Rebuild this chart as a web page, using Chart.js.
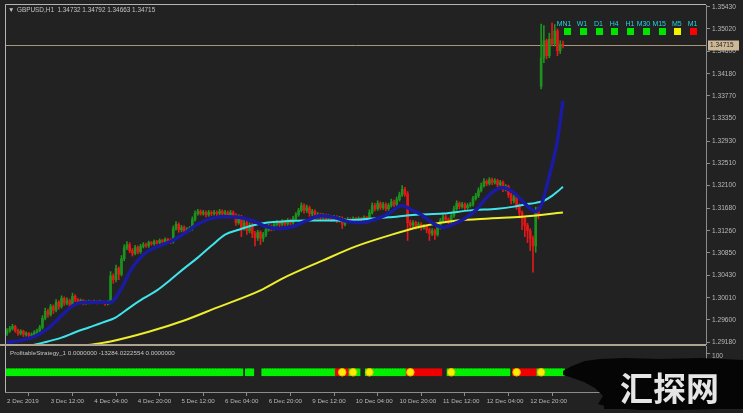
<!DOCTYPE html>
<html>
<head>
<meta charset="utf-8">
<script src="https://cdn.jsdelivr.net/npm/chart.js@4.4.0/dist/chart.umd.min.js"></script>
<style>
  html, body { margin: 0; padding: 0; background: #222222; }
  #wrap { position: relative; width: 743px; height: 413px; overflow: hidden; background: #222222; }
  #main { position: absolute; left: 0; top: 0; }
  #sub { position: absolute; left: 0; top: 346px; }
</style>
</head>
<body>
<div id="wrap">
  <canvas id="main" width="743" height="346"></canvas>
  <canvas id="sub" width="743" height="67"></canvas>
</div>
<script>
// GBPUSD H1, 2 Dec 20:00 -> 13 Dec 08:00 (broker time)
const barOpen = [
  1.2935,1.2940,1.2944,1.2948,1.2940,1.2935,1.2939,1.2933,1.2935,1.2931,
  1.2933,1.2937,1.2940,1.2946,1.2963,1.2976,1.2970,1.2985,1.2978,1.2993,
  1.2985,1.3000,1.2991,1.2996,1.2989,1.3004,1.2998,1.2993,1.2996,1.2991,
  1.2993,1.2994,1.2993,1.2994,1.2993,1.2994,1.2993,1.2991,1.2993,1.3042,
  1.3035,1.3056,1.3045,1.3074,1.3095,1.3100,1.3089,1.3084,1.3095,1.3087,
  1.3097,1.3100,1.3098,1.3104,1.3102,1.3106,1.3104,1.3108,1.3106,1.3110,
  1.3108,1.3106,1.3130,1.3138,1.3128,1.3132,1.3125,1.3128,1.3130,1.3147,
  1.3158,1.3162,1.3158,1.3160,1.3156,1.3160,1.3158,1.3160,1.3158,1.3162,
  1.3158,1.3160,1.3156,1.3160,1.3154,1.3141,1.3151,1.3130,1.3141,1.3126,
  1.3136,1.3121,1.3113,1.3123,1.3112,1.3119,1.3128,1.3134,1.3130,1.3138,
  1.3141,1.3138,1.3143,1.3139,1.3145,1.3141,1.3149,1.3156,1.3164,1.3173,
  1.3164,1.3169,1.3158,1.3162,1.3152,1.3156,1.3151,1.3154,1.3149,1.3152,
  1.3147,1.3151,1.3145,1.3149,1.3138,1.3145,1.3147,1.3145,1.3149,1.3147,
  1.3149,1.3147,1.3151,1.3147,1.3160,1.3173,1.3167,1.3177,1.3169,1.3175,
  1.3167,1.3173,1.3180,1.3175,1.3184,1.3193,1.3203,1.3195,1.3141,1.3136,
  1.3141,1.3134,1.3138,1.3132,1.3134,1.3128,1.3121,1.3126,1.3119,1.3132,
  1.3145,1.3152,1.3147,1.3143,1.3154,1.3167,1.3177,1.3171,1.3175,1.3169,
  1.3173,1.3175,1.3186,1.3191,1.3201,1.3210,1.3218,1.3214,1.3221,1.3216,
  1.3219,1.3212,1.3216,1.3204,1.3208,1.3193,1.3182,1.3188,1.3173,1.3160,
  1.3149,1.3136,1.3126,1.3112,1.3098,1.3164,1.3395,1.3448,1.3480,1.3452,
  1.3483,1.3474,1.3498,1.3461,1.34732
];
const barHigh = [
  1.2944,1.2948,1.2952,1.2950,1.2943,1.2942,1.2941,1.2938,1.2937,1.2936,
  1.2940,1.2943,1.2950,1.2968,1.2982,1.2980,1.2989,1.2988,1.2998,1.2996,
  1.3005,1.3003,1.3001,1.2999,1.3010,1.3007,1.3000,1.2999,1.2998,1.2996,
  1.2997,1.2996,1.2997,1.2996,1.2997,1.2996,1.2995,1.2996,1.3050,1.3046,
  1.3062,1.3059,1.3080,1.3100,1.3106,1.3104,1.3093,1.3099,1.3098,1.3101,
  1.3104,1.3103,1.3107,1.3106,1.3109,1.3108,1.3111,1.3110,1.3113,1.3112,
  1.3111,1.3135,1.3143,1.3141,1.3136,1.3135,1.3132,1.3134,1.3152,1.3163,
  1.3166,1.3165,1.3164,1.3163,1.3164,1.3163,1.3164,1.3163,1.3166,1.3165,
  1.3164,1.3163,1.3164,1.3163,1.3158,1.3156,1.3155,1.3146,1.3145,1.3141,
  1.3140,1.3125,1.3127,1.3126,1.3123,1.3132,1.3138,1.3137,1.3142,1.3145,
  1.3144,1.3147,1.3146,1.3149,1.3148,1.3153,1.3160,1.3168,1.3178,1.3176,
  1.3174,1.3172,1.3166,1.3165,1.3160,1.3159,1.3158,1.3157,1.3156,1.3155,
  1.3155,1.3154,1.3153,1.3152,1.3149,1.3151,1.3150,1.3152,1.3151,1.3152,
  1.3151,1.3154,1.3153,1.3165,1.3178,1.3177,1.3182,1.3180,1.3179,1.3178,
  1.3177,1.3185,1.3183,1.3189,1.3198,1.3210,1.3207,1.3199,1.3146,1.3145,
  1.3144,1.3142,1.3141,1.3138,1.3137,1.3131,1.3130,1.3129,1.3136,1.3149,
  1.3157,1.3155,1.3150,1.3158,1.3172,1.3182,1.3180,1.3179,1.3178,1.3177,
  1.3179,1.3190,1.3196,1.3206,1.3215,1.3223,1.3221,1.3225,1.3224,1.3223,
  1.3222,1.3220,1.3219,1.3212,1.3211,1.3196,1.3192,1.3191,1.3176,1.3163,
  1.3152,1.3140,1.3130,1.3116,1.3170,1.3170,1.3511,1.3508,1.3483,1.3494,
  1.3513,1.3510,1.3502,1.3480,1.34792
];
const barLow = [
  1.2931,1.2937,1.2941,1.2937,1.2931,1.2932,1.2929,1.2930,1.2927,1.2928,
  1.2930,1.2934,1.2937,1.2943,1.2960,1.2965,1.2967,1.2972,1.2975,1.2980,
  1.2982,1.2987,1.2988,1.2984,1.2986,1.2994,1.2989,1.2990,1.2988,1.2989,
  1.2990,1.2990,1.2991,1.2990,1.2991,1.2990,1.2987,1.2988,1.2990,1.3028,
  1.3031,1.3035,1.3042,1.3070,1.3091,1.3085,1.3079,1.3081,1.3083,1.3084,
  1.3094,1.3095,1.3095,1.3099,1.3099,1.3101,1.3101,1.3103,1.3103,1.3104,
  1.3102,1.3103,1.3127,1.3123,1.3124,1.3120,1.3122,1.3125,1.3127,1.3144,
  1.3155,1.3155,1.3155,1.3152,1.3153,1.3154,1.3155,1.3153,1.3155,1.3154,
  1.3155,1.3151,1.3153,1.3150,1.3136,1.3138,1.3115,1.3127,1.3119,1.3122,
  1.3113,1.3098,1.3108,1.3100,1.3106,1.3115,1.3125,1.3126,1.3127,1.3135,
  1.3134,1.3135,1.3135,1.3136,1.3137,1.3138,1.3146,1.3153,1.3161,1.3159,
  1.3160,1.3153,1.3154,1.3147,1.3149,1.3146,1.3148,1.3145,1.3146,1.3143,
  1.3144,1.3141,1.3142,1.3130,1.3135,1.3142,1.3141,1.3142,1.3143,1.3144,
  1.3143,1.3144,1.3140,1.3143,1.3157,1.3163,1.3164,1.3165,1.3166,1.3163,
  1.3164,1.3170,1.3171,1.3172,1.3181,1.3190,1.3190,1.3108,1.3130,1.3132,
  1.3129,1.3130,1.3127,1.3129,1.3122,1.3108,1.3117,1.3110,1.3116,1.3129,
  1.3142,1.3143,1.3139,1.3140,1.3151,1.3164,1.3167,1.3168,1.3165,1.3166,
  1.3170,1.3172,1.3183,1.3188,1.3198,1.3207,1.3210,1.3211,1.3212,1.3213,
  1.3208,1.3209,1.3199,1.3200,1.3188,1.3176,1.3178,1.3166,1.3150,1.3128,
  1.3115,1.3104,1.3089,1.3049,1.3086,1.3148,1.3390,1.3439,1.3446,1.3448,
  1.3470,1.3470,1.3452,1.3456,1.34663
];
const barClose = [
  1.2940,1.2944,1.2948,1.2940,1.2935,1.2939,1.2933,1.2935,1.2931,1.2933,
  1.2937,1.2940,1.2946,1.2963,1.2976,1.2970,1.2985,1.2978,1.2993,1.2985,
  1.3000,1.2991,1.2996,1.2989,1.3004,1.2998,1.2993,1.2996,1.2991,1.2993,
  1.2994,1.2993,1.2994,1.2993,1.2994,1.2993,1.2991,1.2993,1.3042,1.3035,
  1.3056,1.3045,1.3074,1.3095,1.3100,1.3089,1.3084,1.3095,1.3087,1.3097,
  1.3100,1.3098,1.3104,1.3102,1.3106,1.3104,1.3108,1.3106,1.3110,1.3108,
  1.3106,1.3130,1.3138,1.3128,1.3132,1.3125,1.3128,1.3130,1.3147,1.3158,
  1.3162,1.3158,1.3160,1.3156,1.3160,1.3158,1.3160,1.3158,1.3162,1.3158,
  1.3160,1.3156,1.3160,1.3154,1.3141,1.3151,1.3130,1.3141,1.3126,1.3136,
  1.3121,1.3113,1.3123,1.3112,1.3119,1.3128,1.3134,1.3130,1.3138,1.3141,
  1.3138,1.3143,1.3139,1.3145,1.3141,1.3149,1.3156,1.3164,1.3173,1.3164,
  1.3169,1.3158,1.3162,1.3152,1.3156,1.3151,1.3154,1.3149,1.3152,1.3147,
  1.3151,1.3145,1.3149,1.3138,1.3145,1.3147,1.3145,1.3149,1.3147,1.3149,
  1.3147,1.3151,1.3147,1.3160,1.3173,1.3167,1.3177,1.3169,1.3175,1.3167,
  1.3173,1.3180,1.3175,1.3184,1.3193,1.3203,1.3195,1.3141,1.3136,1.3141,
  1.3134,1.3138,1.3132,1.3134,1.3128,1.3121,1.3126,1.3119,1.3132,1.3145,
  1.3152,1.3147,1.3143,1.3154,1.3167,1.3177,1.3171,1.3175,1.3169,1.3173,
  1.3175,1.3186,1.3191,1.3201,1.3210,1.3218,1.3214,1.3221,1.3216,1.3219,
  1.3212,1.3216,1.3204,1.3208,1.3193,1.3182,1.3188,1.3173,1.3160,1.3149,
  1.3136,1.3126,1.3112,1.3098,1.3164,1.3154,1.3448,1.3480,1.3452,1.3483,
  1.3474,1.3498,1.3461,1.34732,1.34715
];

// moving averages (bar index / price pairs)
const fastBars = [0,5,10,15,20,25,30,35,38,42,45,48,52,56,60,65,70,75,80,85,90,95,100,105,110,115,120,125,130,135,140,145,148,152,156,160,164,168,172,176,180,182,186,189,192,194,196,198,200,202,204];
const fastVals = [1.2918,1.2922,1.2929,1.2944,1.2968,1.2989,1.2993,1.2993,1.2993,1.3019,1.3049,1.3071,1.3089,1.3098,1.3106,1.3121,1.3138,1.3149,1.3152,1.3151,1.3145,1.3134,1.3130,1.3134,1.3145,1.3154,1.3151,1.3143,1.3141,1.3147,1.3158,1.3173,1.3166,1.3156,1.3141,1.3132,1.3139,1.3149,1.3164,1.3188,1.3204,1.3206,1.3197,1.3182,1.3167,1.3162,1.3173,1.3208,1.3249,1.3294,1.3368];
const midBars = [0,5,10,15,20,25,30,35,40,45,50,55,60,65,70,75,80,85,90,95,100,110,120,130,140,150,160,170,180,186,190,194,197,200,202,204];
const midVals = [1.2910,1.2911,1.2914,1.2920,1.2927,1.2937,1.2946,1.2955,1.2965,1.2983,1.3000,1.3015,1.3035,1.3056,1.3076,1.3098,1.3119,1.3128,1.3136,1.3141,1.3143,1.3145,1.3145,1.3147,1.3151,1.3156,1.3158,1.3164,1.3167,1.3171,1.3175,1.3178,1.3182,1.3191,1.3199,1.3208];
const slowBars = [18,28,38,52,65,77,93,101,116,128,140,152,165,177,189,204];
const slowVals = [1.2903,1.2912,1.2920,1.2938,1.2959,1.2983,1.3015,1.3037,1.3071,1.3097,1.3117,1.3134,1.3145,1.3149,1.3152,1.3160];

const priceTicks = [1.29180,1.29600,1.30010,1.30430,1.30850,1.31260,1.31680,1.32100,1.32510,1.32930,1.33350,1.33770,1.34180,1.34600,1.35020,1.35430];
const timeTickBars = [0,16,32,48,64,80,96,112,128,144,160,176,192];
const timeTickLabels = ['2 Dec 2019','3 Dec 12:00','4 Dec 04:00','4 Dec 20:00','5 Dec 12:00','6 Dec 04:00','6 Dec 20:00','9 Dec 12:00','10 Dec 04:00','10 Dec 20:00','11 Dec 12:00','12 Dec 04:00','12 Dec 20:00'];

// ProfitableStrategy_1 sub window: colored runs and signal dots
const signalRunStart = [0, 88, 94, 121, 126, 132, 147, 162, 186, 195];
const signalRunEnd   = [86, 90, 120, 125, 129, 146, 159, 184, 194, 204];
const signalRunColor = ['g','g','g','r','g','g','r','g','r','g'];
const signalDotBars  = [123, 127, 133, 148, 163, 187, 196];

const tfNames  = ['MN1','W1','D1','H4','H1','M30','M15','M5','M1'];
const tfStates = ['up','up','up','up','up','up','up','flat','down'];

const lastBar = barClose.length - 1;
const titleText = 'GBPUSD,H1  ' + [barOpen[lastBar], barHigh[lastBar], barLow[lastBar], barClose[lastBar]].map(v => v.toFixed(5)).join(' ');

const FONT = '"Liberation Sans", Arial, sans-serif';
const UP = '#1d921d', DOWN = '#e41818';
const X_MIN = -0.75, X_MAX = 256.5;

const candleCols = barClose.map((c, i) => c >= barOpen[i] ? UP : DOWN);
const bodyData = barClose.map((c, i) => ({ x: i, y: [barOpen[i], c] }));
const wickData = barClose.map((c, i) => ({ x: i, y: [barLow[i], barHigh[i]] }));
const toPts = (bars, vals) => bars.map((b, k) => ({ x: b, y: vals[k] }));

const mainDecor = {
  id: 'mainDecor',
  beforeDatasetsDraw(chart) {
    const { ctx, chartArea: a, scales: { y } } = chart;
    const py = Math.round(y.getPixelForValue(barClose[lastBar])) + 0.5;
    ctx.save();
    ctx.strokeStyle = '#a8977b';
    ctx.lineWidth = 1;
    ctx.beginPath(); ctx.moveTo(a.left, py); ctx.lineTo(a.right, py); ctx.stroke();
    ctx.restore();
  },
  afterDraw(chart) {
    const { ctx, chartArea: a, scales: { y } } = chart;
    ctx.save();
    // frame
    ctx.strokeStyle = '#b4b4b4';
    ctx.lineWidth = 1;
    ctx.beginPath();
    ctx.moveTo(a.left + 0.5, a.bottom); ctx.lineTo(a.left + 0.5, a.top - 0.5); ctx.lineTo(a.right, a.top - 0.5);
    ctx.stroke();
    ctx.fillStyle = '#ada38f';
    ctx.fillRect(0, 344, a.right, 2);

    // last price box
    const py = Math.round(y.getPixelForValue(barClose[lastBar])) + 0.5;
    ctx.fillStyle = '#cdb897';
    ctx.fillRect(a.right + 2, py - 5, 31, 10);
    ctx.fillStyle = '#2b241a';
    ctx.font = '6.5px ' + FONT;
    ctx.textBaseline = 'middle';
    ctx.fillText(barClose[lastBar].toFixed(5), a.right + 4, py);

    // title
    ctx.fillStyle = '#c4c4c4';
    ctx.font = '6.4px ' + FONT;
    ctx.fillText('\u25BC', 8, 10.5);
    ctx.fillText(titleText, 17, 10.5);

    // timeframe panel
    ctx.font = '7px ' + FONT;
    ctx.textAlign = 'right';
    tfNames.forEach((n, k) => {
      const sx = 564 + k * 15.75;
      ctx.fillStyle = '#22d3e3';
      ctx.fillText(n, sx + 7.5, 24);
      ctx.fillStyle = tfStates[k] === 'up' ? '#00e400' : tfStates[k] === 'flat' ? '#f2f200' : '#ff0000';
      ctx.fillRect(Math.round(sx), 28, 7, 7);
    });
    ctx.restore();
  }
};

new Chart(document.getElementById('main'), {
  type: 'bar',
  data: {
    datasets: [
      { type: 'line', data: toPts(fastBars, fastVals), borderColor: '#1a1aa2', borderWidth: 3.5, pointRadius: 0, cubicInterpolationMode: 'monotone', order: 0 },
      { type: 'line', data: toPts(midBars, midVals), borderColor: '#40e4ec', borderWidth: 2, pointRadius: 0, cubicInterpolationMode: 'monotone', order: 0 },
      { type: 'line', data: toPts(slowBars, slowVals), borderColor: '#eeee2c', borderWidth: 2, pointRadius: 0, cubicInterpolationMode: 'monotone', order: 0 },
      { data: bodyData, backgroundColor: candleCols, barThickness: 2, grouped: false, order: 1 },
      { data: wickData, backgroundColor: candleCols, barThickness: 1, grouped: false, order: 2 }
    ]
  },
  options: {
    responsive: false,
    animation: false,
    events: [],
    layout: { padding: { left: 5, top: 5, right: 0, bottom: 2 } },
    plugins: { legend: { display: false }, tooltip: { enabled: false } },
    scales: {
      x: { type: 'linear', min: X_MIN, max: X_MAX, offset: false, display: false },
      y: {
        position: 'right',
        min: 1.29152, max: 1.35464,
        grid: { drawOnChartArea: false, drawTicks: true, tickLength: 4, color: '#8c8c8c' },
        border: { color: '#8c8c8c' },
        ticks: { color: '#b8b8b8', padding: 2, font: { family: FONT, size: 6.6 }, callback: v => v.toFixed(5) },
        afterBuildTicks: s => { s.ticks = priceTicks.map(v => ({ value: v })); },
        afterFit: s => { s.width = 37; s.paddingTop = 0; s.paddingBottom = 0; }
      }
    }
  },
  plugins: [mainDecor]
});

// indicator sub window
const sigData = [], sigCols = [];
signalRunStart.forEach((s, k) => {
  for (let i = s; i <= signalRunEnd[k]; i++) {
    sigData.push({ x: i, y: [42, 60] });
    sigCols.push(signalRunColor[k] === 'g' ? '#00f000' : '#f00000');
  }
});

const subDecor = {
  id: 'subDecor',
  afterDatasetsDraw(chart) {
    const { ctx } = chart;
    // watermark smudge + site name (drawn before the axis labels)
    const blob = [[563,371],[572,366],[585,361],[600,359],[625,358],[660,359],[700,358],[743,360],[743,400],[738,406],[720,409],[680,410],[640,410],[612,408],[598,404],[603,396],[595,388],[584,382],[570,377],[563,375]];
    ctx.save();
    ctx.fillStyle = '#050505';
    ctx.beginPath();
    blob.forEach(([px, py], k) => k ? ctx.lineTo(px, py - 346) : ctx.moveTo(px, py - 346));
    ctx.closePath();
    ctx.fill();
    ctx.restore();
  },
  afterDraw(chart) {
    const { ctx, chartArea: a } = chart;
    ctx.save();
    ctx.strokeStyle = '#b4b4b4';
    ctx.lineWidth = 1;
    ctx.beginPath(); ctx.moveTo(a.left + 0.5, 0); ctx.lineTo(a.left + 0.5, a.bottom); ctx.stroke();
    ctx.strokeStyle = '#8c8c8c';
    ctx.beginPath(); ctx.moveTo(a.right + 0.5, 0); ctx.lineTo(a.right + 0.5, a.top); ctx.stroke();

    ctx.fillStyle = '#c4c4c4';
    ctx.font = '6.2px ' + FONT;
    ctx.textBaseline = 'middle';
    ctx.fillText('ProfitableStrategy_1 0.0000000 -13284.0222554 0.0000000', 10, 7.5);

    // the smudge also covers the axis below the text
    ctx.fillStyle = '#050505';
    ctx.fillRect(604, 46, 139, 17);
    ctx.fillStyle = '#e6e6e6';
    ctx.font = 'bold 33px "Noto Sans CJK SC", sans-serif';
    ctx.fillText('汇探网', 620, 42);
    ctx.restore();
  }
};

new Chart(document.getElementById('sub'), {
  type: 'bar',
  data: {
    datasets: [
      { type: 'scatter', data: signalDotBars.map(b => ({ x: b, y: 51 })), pointRadius: 3.8, backgroundColor: '#f6f000', borderColor: '#e8b400', borderWidth: 1, order: 0 },
      { data: sigData, backgroundColor: sigCols, barThickness: 3, grouped: false, order: 1 }
    ]
  },
  options: {
    responsive: false,
    animation: false,
    events: [],
    layout: { padding: { left: 5, top: 1, right: 0, bottom: 0 } },
    plugins: { legend: { display: false }, tooltip: { enabled: false } },
    scales: {
      x: {
        type: 'linear', min: X_MIN, max: X_MAX, offset: false,
        grid: { drawOnChartArea: false, drawTicks: true, tickLength: 4, color: '#8c8c8c' },
        border: { color: '#8c8c8c' },
        ticks: {
          align: 'start', autoSkip: false, maxRotation: 0, minRotation: 0, padding: 2,
          color: '#b8b8b8', font: { family: FONT, size: 6.2 },
          callback: v => timeTickLabels[timeTickBars.indexOf(v)] || ''
        },
        afterBuildTicks: s => { s.ticks = timeTickBars.map(v => ({ value: v })); },
        afterFit: s => { s.height = 21; s.paddingLeft = 0; s.paddingRight = 0; }
      },
      y: {
        position: 'right', min: 0, max: 106,
        grid: { drawOnChartArea: false, drawTicks: true, tickLength: 4, color: '#8c8c8c' },
        border: { color: '#8c8c8c' },
        ticks: { color: '#b8b8b8', padding: 2, labelOffset: 3, font: { family: FONT, size: 6.6 } },
        afterBuildTicks: s => { s.ticks = [{ value: 100 }]; },
        afterFit: s => { s.width = 37; s.paddingTop = 0; s.paddingBottom = 0; }
      }
    }
  },
  plugins: [subDecor]
});
</script>
</body>
</html>
